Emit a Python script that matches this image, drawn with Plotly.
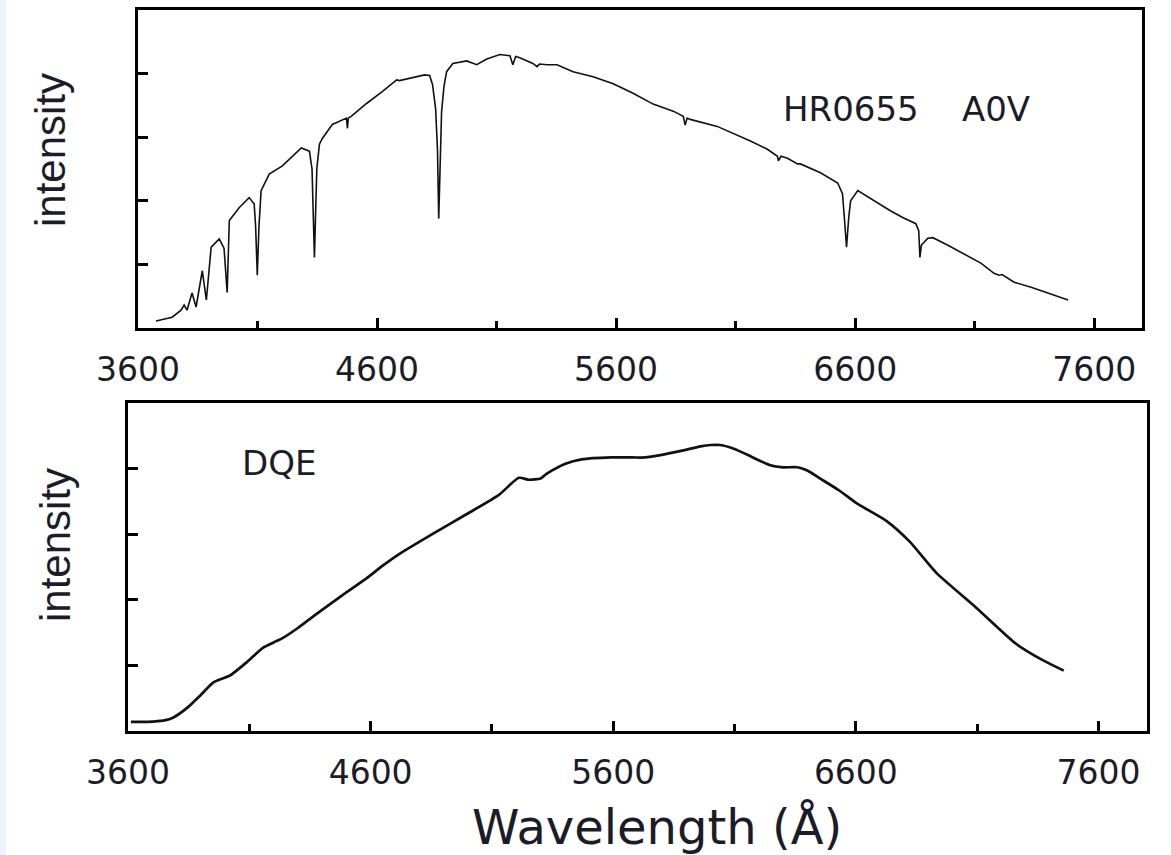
import plotly.graph_objects as go

# ---------------- data ----------------
# Top panel: HR0655 A0V spectrum (wavelength in Angstrom, relative intensity)
spec_wl = [3675, 3743, 3780, 3793, 3805, 3826, 3843, 3869, 3886, 3906, 3940, 3960, 3973,
           3982, 4023, 4065, 4086, 4092, 4099, 4106, 4115, 4149, 4204, 4283, 4317, 4328,
           4338, 4348, 4359, 4371, 4413, 4472, 4476, 4480, 4493, 4556, 4623, 4682, 4694,
           4749, 4799, 4820, 4832, 4845, 4853, 4858, 4864, 4870, 4880, 4891, 4917, 4975,
           5017, 5059, 5114, 5156, 5168, 5180, 5197, 5252, 5269, 5280, 5311, 5353, 5420,
           5504, 5588, 5671, 5755, 5839, 5881, 5889, 5897, 5910, 6023, 6090, 6162, 6233,
           6275, 6279, 6290, 6317, 6359, 6371, 6455, 6527, 6547, 6555, 6564, 6573, 6581,
           6611, 6678, 6749, 6803, 6854, 6866, 6871, 6877, 6883, 6904, 6925, 6988, 7051,
           7126, 7181, 7202, 7215, 7265, 7336, 7407, 7491]
spec_int = [0.11, 0.17, 0.28, 0.36, 0.28, 0.55, 0.33, 0.90, 0.44, 1.27, 1.40, 1.25, 0.56,
            1.69, 1.89, 2.05, 1.95, 1.60, 0.83, 1.60, 2.16, 2.42, 2.55, 2.83, 2.78, 2.50,
            1.11, 2.50, 2.89, 2.98, 3.20, 3.30, 3.14, 3.30, 3.33, 3.53, 3.72, 3.90, 3.89,
            3.94, 3.98, 3.97, 3.83, 3.45, 2.78, 1.72, 2.78, 3.40, 3.80, 4.03, 4.16, 4.20,
            4.14, 4.23, 4.30, 4.28, 4.14, 4.27, 4.25, 4.16, 4.11, 4.15, 4.14, 4.14, 4.03,
            3.95, 3.84, 3.69, 3.52, 3.41, 3.33, 3.19, 3.30, 3.28, 3.17, 3.06, 2.94, 2.81,
            2.70, 2.63, 2.70, 2.67, 2.58, 2.58, 2.44, 2.28, 2.11, 1.73, 1.27, 1.73, 2.00,
            2.16, 2.00, 1.84, 1.73, 1.64, 1.53, 1.11, 1.30, 1.33, 1.41, 1.42, 1.30, 1.17,
            1.02, 0.86, 0.83, 0.84, 0.72, 0.64, 0.55, 0.44]

# Bottom panel: DQE curve
dqe_wl = [3612, 3680, 3723, 3760, 3789, 3846, 3900, 3952, 3990, 4022, 4090, 4157, 4200,
          4239, 4300, 4379, 4480, 4584, 4650, 4719, 4854, 4993, 5129, 5211, 5252, 5301,
          5325, 5362, 5400, 5469, 5592, 5680, 5731, 5800, 5879, 5960, 6002, 6040, 6100,
          6153, 6248, 6300, 6360, 6400, 6452, 6530, 6604, 6727, 6821, 6932, 7096, 7260,
          7370, 7457]
dqe_int = [0.14, 0.14, 0.15, 0.17, 0.21, 0.36, 0.55, 0.74, 0.80, 0.85, 1.05, 1.27, 1.35,
           1.42, 1.57, 1.79, 2.06, 2.33, 2.52, 2.70, 3.00, 3.30, 3.60, 3.86, 3.83, 3.85,
           3.92, 4.00, 4.07, 4.14, 4.17, 4.17, 4.17, 4.21, 4.27, 4.34, 4.36, 4.36, 4.30,
           4.21, 4.05, 4.02, 4.02, 3.97, 3.85, 3.67, 3.47, 3.20, 2.89, 2.41, 1.88, 1.33,
           1.08, 0.92]

x_range = [3600, 7800]
y_range = [0, 5]
x_tickvals = [3600, 4600, 5600, 6600, 7600]
x_ticktext = ["3600", "4600", "5600", "6600", "7600"]
y_tickvals = [1, 2, 3, 4]

# ---------------- figure ----------------
W, H = 1171, 855
TXT = "#1c1c28"

fig = go.Figure()
fig.add_trace(go.Scatter(x=spec_wl, y=spec_int, mode="lines",
                         line=dict(color="#111111", width=1.6),
                         xaxis="x", yaxis="y", showlegend=False))
fig.add_trace(go.Scatter(x=dqe_wl, y=dqe_int, mode="lines",
                         line=dict(color="#111111", width=2.7, shape="spline", smoothing=0.6),
                         xaxis="x2", yaxis="y2", showlegend=False))


def px_x(a, b):
    return [a / W, b / W]


def px_y(top, bottom):
    return [1 - bottom / H, 1 - top / H]


xcommon = dict(range=x_range, tickvals=x_tickvals, ticktext=x_ticktext,
               ticks="inside", ticklen=10, tickwidth=3, tickcolor="black",
               showline=True, linewidth=3, linecolor="black", mirror=True,
               showgrid=False, zeroline=False, automargin=False,
               tickfont=dict(family="DejaVu Sans", size=33, color=TXT),
               ticklabelstandoff=10,
               minor=dict(dtick=500, tick0=3600, ticks="inside", ticklen=7,
                          tickwidth=3, tickcolor="black", showgrid=False))
ycommon = dict(range=y_range, tickvals=y_tickvals, showticklabels=False,
               ticks="inside", ticklen=10, tickwidth=3, tickcolor="black",
               showline=True, linewidth=3, linecolor="black", mirror=True,
               showgrid=False, zeroline=False, automargin=False)

fig.update_layout(
    template="none",
    width=W, height=H,
    margin=dict(l=0, r=0, t=0, b=0, pad=0, autoexpand=False),
    paper_bgcolor="white", plot_bgcolor="white",
    xaxis=dict(domain=px_x(138, 1142), anchor="y", **xcommon),
    yaxis=dict(domain=px_y(10, 328), anchor="x", **ycommon),
    xaxis2=dict(domain=px_x(128, 1147), anchor="y2", **xcommon),
    yaxis2=dict(domain=px_y(403, 731), anchor="x2", **ycommon),
)

annotations = [
    dict(text="HR0655\u00a0\u00a0\u00a0\u00a0A0V", x=6290, y=3.45, xref="x", yref="y",
         xanchor="left", yanchor="middle", showarrow=False,
         font=dict(family="DejaVu Sans", size=34, color=TXT)),
    dict(text="DQE", x=4063, y=4.09, xref="x2", yref="y2",
         xanchor="left", yanchor="middle", showarrow=False,
         font=dict(family="DejaVu Sans", size=34, color=TXT)),
    dict(text="intensity", x=50 / W, y=1 - 150 / H, xref="paper", yref="paper",
         xanchor="center", yanchor="middle", textangle=-90, showarrow=False,
         font=dict(family="Liberation Sans", size=42, color=TXT)),
    dict(text="intensity", x=55 / W, y=1 - 545 / H, xref="paper", yref="paper",
         xanchor="center", yanchor="middle", textangle=-90, showarrow=False,
         font=dict(family="Liberation Sans", size=42, color=TXT)),
    dict(text="Wavelength (Å)", x=657 / W, y=1 - 827 / H, xref="paper", yref="paper",
         xanchor="center", yanchor="middle", showarrow=False,
         font=dict(family="DejaVu Sans", size=48, color=TXT)),
]
fig.update_layout(annotations=annotations)

fig.add_shape(type="rect", xref="paper", yref="paper", x0=0, x1=6 / W, y0=0, y1=1,
              fillcolor="#edf3fb", line=dict(width=0), layer="below")

fig.write_html("out.html")
